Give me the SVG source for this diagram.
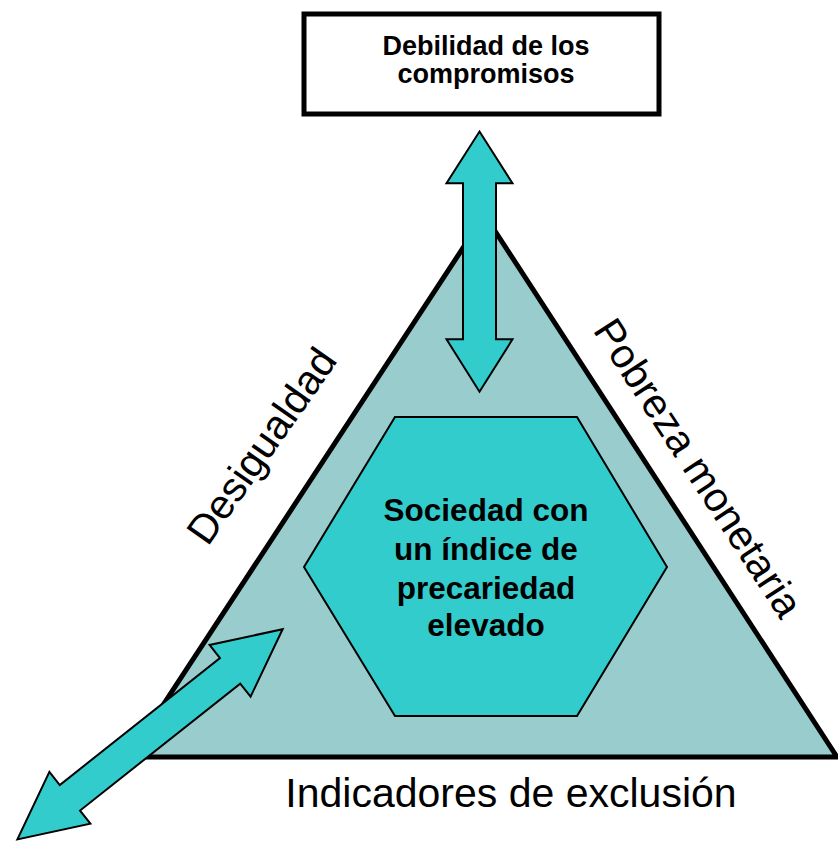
<svg xmlns="http://www.w3.org/2000/svg" width="838" height="841" viewBox="0 0 838 841">
  <style>
    .arrow { fill: #33CCCC; stroke: #000; stroke-width: 2; stroke-linejoin: miter; }
    .bold { font-family: "Liberation Sans", Arial, sans-serif; font-weight: bold; fill: #000; text-anchor: middle; }
    .side { font-family: "Liberation Sans", Arial, sans-serif; font-size: 41px; fill: #000; text-anchor: middle; }
  </style>
  <rect width="838" height="841" fill="#FFFFFF"/>
  <g id="triangle">
    <polygon points="484.6,215 837,757 129,757" fill="#99CCCC" stroke="#000" stroke-width="5" stroke-linejoin="miter"/>
  </g>
  <g id="hexagon">
    <polygon points="395,417 577,417 667,567 577,716 395,716 304,567" fill="#33CCCC" stroke="#000" stroke-width="2"/>
    <text class="bold" font-size="31.5" x="486" y="521">Sociedad con</text>
    <text class="bold" font-size="31.5" x="486" y="560">un índice de</text>
    <text class="bold" font-size="31.5" x="486" y="599">precariedad</text>
    <text class="bold" font-size="31.5" x="486" y="636">elevado</text>
  </g>
  <g id="top-box">
    <rect x="304" y="14" width="355" height="100" fill="#FFFFFF" stroke="#000" stroke-width="5"/>
    <text class="bold" font-size="27" x="486" y="55">Debilidad de los</text>
    <text class="bold" font-size="27" x="486" y="83">compromisos</text>
  </g>
  <g id="connectors">
    <polygon class="arrow" points="479.5,131.5 512.5,183.3 496,183.3 496,339.3 512.5,339.3 479.5,391.7 446.5,339.3 463,339.3 463,183.3 446.5,183.3"/>
    <polygon class="arrow" transform="translate(150,734.3) rotate(-38.4)" points="169.2,0 102.2,33 102.2,16.3 -102.2,16.3 -102.2,33 -169.2,0 -102.2,-33 -102.2,-16.3 102.2,-16.3 102.2,-33"/>
  </g>
  <g id="label-desigualdad">
    <text class="side" transform="translate(273,454) rotate(-55)">Desigualdad</text>
  </g>
  <g id="label-pobreza">
    <text class="side" transform="translate(686.5,475.4) rotate(57)">Pobreza monetaria</text>
  </g>
  <g id="label-indicadores">
    <text class="side" x="511" y="807">Indicadores de exclusión</text>
  </g>
</svg>
